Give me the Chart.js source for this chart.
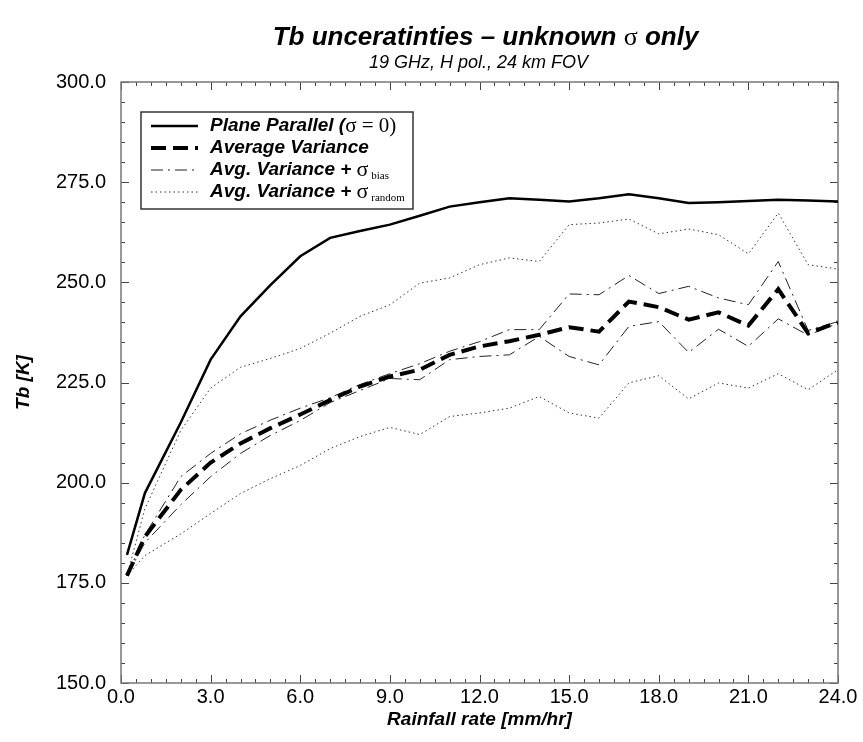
<!DOCTYPE html>
<html>
<head>
<meta charset="utf-8">
<script src="https://cdn.jsdelivr.net/npm/chart.js@4.4.0/dist/chart.umd.min.js"></script>
<style>
html,body{margin:0;padding:0;background:#fff}
#chart{display:block}
</style>
</head>
<body>
<canvas id="chart" width="863" height="742"></canvas>
<script>
// rainfall rate [mm/hr]
const rain=[0.2,0.8,2,3,4,5,6,7,8,9,10,11,12,13,14,15,16,17,18,19,20,21,22,23,24]

// Tb [K]
const planeParallel=[182.0,197.4,215.0,230.7,241.5,249.3,256.5,261.1,262.8,264.4,266.6,268.9,270.0,271.0,270.6,270.2,271.0,272.0,271.0,269.8,270.0,270.3,270.6,270.4,270.2]
const avgVariance=[176.8,186.5,198.2,205.0,209.8,213.6,217.0,220.6,224.0,226.5,228.2,231.9,234.0,235.3,236.9,238.8,237.7,245.2,243.8,240.7,242.5,239.2,248.3,237.3,240.0]
const biasUpper=[176.8,187.0,201.5,207.3,212.2,215.6,218.6,221.2,224.5,227.2,229.7,232.8,235.2,238.2,238.2,247.1,246.9,251.7,247.2,249.0,246.1,244.4,255.2,238.0,240.2]
const biasLower=[176.8,185.0,194.5,201.5,207.3,211.8,215.5,220.0,223.0,226.0,225.7,230.7,231.5,231.9,236.5,231.5,229.4,239.0,240.2,232.5,238.3,234.0,240.9,236.8,239.8]
const randomUpper=[176.8,193.5,213.0,223.6,228.8,231.0,233.5,237.3,241.5,244.4,249.8,251.1,254.4,256.1,255.2,264.4,264.8,265.8,262.1,263.3,261.9,257.1,267.3,254.4,253.3]
const randomLower=[176.8,181.8,187.2,192.3,197.3,201.0,204.3,208.5,211.5,213.8,212.0,216.5,217.4,218.6,221.5,217.4,216.1,224.9,226.7,220.9,224.9,223.6,227.2,223.2,228.2]

const xTicks=[0,24,3]     // min,max,step
const yTicks=[150,300,25]

const titleText='Tb unceratinties \u2013 unknown '
const subTitle='19 GHz, H pol., 24 km FOV'

const SANS='"Liberation Sans", Arial, Helvetica, sans-serif'
const SERIF='"Liberation Serif", "Times New Roman", serif'

const pts=(ys)=>rain.map((x,i)=>({x:x,y:ys[i]}))

const legendItems=[
  {ds:0,parts:[{t:'Plane Parallel (',f:'italic bold 19px '+SANS},{t:'\u03c3 = 0)',f:'21px '+SERIF}]},
  {ds:1,parts:[{t:'Average Variance',f:'italic bold 19px '+SANS}]},
  {ds:2,parts:[{t:'Avg. Variance + ',f:'italic bold 19px '+SANS},{t:'\u03c3',f:'22px '+SERIF},{t:' bias',f:'11px '+SERIF,dy:6}]},
  {ds:4,parts:[{t:'Avg. Variance + ',f:'italic bold 19px '+SANS},{t:'\u03c3',f:'22px '+SERIF},{t:' random',f:'11px '+SERIF,dy:6}]}
]

const titles={
  id:'titles',
  afterDraw(chart){
    const ctx=chart.ctx, a=chart.chartArea
    const cx=(a.left+a.right)/2+6
    ctx.save()
    ctx.fillStyle='#000'
    ctx.textBaseline='middle'
    var parts=[{t:titleText,f:'italic bold 26px '+SANS},{t:'\u03c3',f:'26px '+SERIF},{t:' only',f:'italic bold 26px '+SANS}]
    var w=0
    parts.forEach(p=>{ctx.font=p.f; w+=ctx.measureText(p.t).width})
    var x=cx-w/2
    parts.forEach(p=>{ctx.font=p.f; ctx.fillText(p.t,x,38); x+=ctx.measureText(p.t).width})
    ctx.font='italic 18px '+SANS
    ctx.textAlign='center'
    ctx.fillText(subTitle,cx-7,63)
    ctx.restore()
  }
}

const frame={
  id:'frame',
  beforeDatasetsDraw(chart){
    const ctx=chart.ctx, a=chart.chartArea
    const xs=chart.scales.x, ys=chart.scales.y
    ctx.save()
    ctx.strokeStyle='#444'
    ctx.lineWidth=1
    ctx.beginPath()
    for(var v=xTicks[0];v<=xTicks[1]+1e-6;v+=0.5){
      var px=Math.round(xs.getPixelForValue(v))+0.5
      var len=(Math.abs(v%3)<1e-6)?8:4
      ctx.moveTo(px,a.bottom); ctx.lineTo(px,a.bottom-len)
      ctx.moveTo(px,a.top); ctx.lineTo(px,a.top+len)
    }
    for(var u=yTicks[0];u<=yTicks[1]+1e-6;u+=5){
      var py=Math.round(ys.getPixelForValue(u))+0.5
      var l2=(Math.abs(u%25)<1e-6)?8:4
      ctx.moveTo(a.left,py); ctx.lineTo(a.left+l2,py)
      ctx.moveTo(a.right,py); ctx.lineTo(a.right-l2,py)
    }
    ctx.stroke()
    ctx.strokeStyle='#777'
    ctx.lineWidth=1.5
    ctx.strokeRect(a.left,a.top,a.right-a.left,a.bottom-a.top)
    ctx.restore()
  }
}

const legendBox={
  id:'legendBox',
  afterDatasetsDraw(chart){
    const ctx=chart.ctx, a=chart.chartArea
    const x0=a.left+20, y0=a.top+30, w=272, h=97
    ctx.save()
    ctx.fillStyle='#fff'
    ctx.fillRect(x0,y0,w,h)
    ctx.strokeStyle='#333'
    ctx.lineWidth=1.5
    ctx.strokeRect(x0,y0,w,h)
    legendItems.forEach((it,i)=>{
      const ds=chart.data.datasets[it.ds]
      const y=y0+14+i*22
      ctx.beginPath()
      ctx.setLineDash(ds.borderDash||[])
      ctx.lineWidth=ds.borderWidth
      ctx.strokeStyle=ds.borderColor
      ctx.moveTo(x0+10,y); ctx.lineTo(x0+57,y)
      ctx.stroke()
      ctx.setLineDash([])
      var tx=x0+69
      ctx.fillStyle='#000'
      ctx.textBaseline='middle'
      it.parts.forEach(p=>{
        ctx.font=p.f
        ctx.fillText(p.t,tx,y+(p.dy||0))
        tx+=ctx.measureText(p.t).width
      })
    })
    ctx.restore()
  }
}

const line=(label,ys,width,dash,color)=>({
  label:label,
  data:pts(ys),
  borderColor:color,
  borderWidth:width,
  borderDash:dash,
  pointRadius:0,
  tension:0,
  fill:false
})

var ctx=document.getElementById('chart').getContext('2d')
var myChart=new Chart(ctx,{
  type:'line',
  data:{
    datasets:[
      line('Plane Parallel (\u03c3 = 0)',planeParallel,2.5,[],'#000'),
      line('Average Variance',avgVariance,4,[15,7],'#000'),
      line('Avg. Variance + \u03c3 bias',biasUpper,1,[12,5,2,5],'#222'),
      line('Avg. Variance - \u03c3 bias',biasLower,1,[12,5,2,5],'#222'),
      line('Avg. Variance + \u03c3 random',randomUpper,1,[1.5,3],'#333'),
      line('Avg. Variance - \u03c3 random',randomLower,1,[1.5,3],'#333')
    ]
  },
  options:{
    responsive:false,
    animation:false,
    devicePixelRatio:1,
    layout:{padding:{left:0,right:25,top:82,bottom:0}},
    plugins:{legend:{display:false},tooltip:{enabled:false}},
    scales:{
      x:{
        type:'linear',
        min:xTicks[0],max:xTicks[1],
        grid:{display:false,drawTicks:false},
        border:{display:false},
        ticks:{stepSize:xTicks[2],padding:2,color:'#000',font:{family:SANS,size:20},callback:v=>v.toFixed(1)},
        title:{display:true,text:'Rainfall rate [mm/hr]',color:'#000',font:{family:SANS,size:19,weight:'bold',style:'italic'},padding:{top:0,bottom:11}},
        afterFit:s=>{s.height=59}
      },
      y:{
        min:yTicks[0],max:yTicks[1],
        grid:{display:false,drawTicks:false},
        border:{display:false},
        ticks:{stepSize:yTicks[2],padding:15,color:'#000',font:{family:SANS,size:20},callback:v=>v.toFixed(1)},
        title:{display:true,text:'Tb [K]',color:'#000',font:{family:SANS,size:19,weight:'bold',style:'italic'},padding:{top:12,bottom:0}},
        afterFit:s=>{s.width=121}
      }
    }
  },
  plugins:[frame,legendBox,titles]
})
</script>
</body>
</html>
